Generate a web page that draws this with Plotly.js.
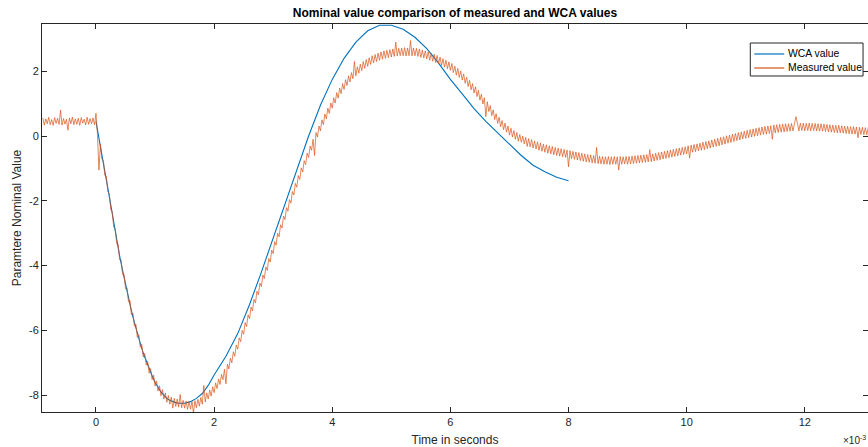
<!DOCTYPE html>
<html>
<head>
<meta charset="utf-8">
<script src="https://cdn.plot.ly/plotly-3.0.1.min.js"></script>
<style>
html,body{margin:0;padding:0;background:#fff;overflow:hidden;}
#chart{width:868px;height:447px;}
</style>
</head>
<body>
<div id="chart"></div>
<script>
// WCA value (time axis in units of 10^-3 s)
const wcaTime = [0,0.05,0.1,0.15,0.2,0.25,0.3,0.35,0.4,0.45,0.5,0.55,0.6,0.65,0.7,0.75,0.8,0.85,0.9,0.95,1.0,1.05,1.1,1.15,1.2,1.25,1.3,1.35,1.4,1.45,1.5,1.6,1.7,1.8,1.9,2.0,2.2,2.4,2.6,2.8,3.0,3.2,3.4,3.6,3.8,4.0,4.2,4.4,4.6,4.8,5.0,5.2,5.4,5.6,5.8,6.0,6.2,6.4,6.6,6.8,7.0,7.2,7.4,7.6,7.8,8.0];
const wcaValue = [0.45,-0.1,-0.6,-1.1,-1.6,-2.15,-2.7,-3.2,-3.7,-4.15,-4.6,-5.0,-5.4,-5.75,-6.1,-6.4,-6.7,-6.95,-7.2,-7.4,-7.6,-7.75,-7.9,-8.0,-8.1,-8.16,-8.2,-8.23,-8.25,-8.26,-8.25,-8.2,-8.1,-7.95,-7.7,-7.38,-6.8,-6.1,-5.2,-4.2,-3.15,-2.1,-1.05,0.0,0.95,1.75,2.4,2.9,3.25,3.42,3.42,3.3,3.05,2.7,2.25,1.75,1.3,0.85,0.45,0.1,-0.25,-0.6,-0.9,-1.1,-1.27,-1.38];

// Measured value, one sample every 0.025 (x10^-3 s) starting at -0.9
const measuredStart = -0.9;
const measuredStep = 0.025;
const measuredValue = [
0.56,0.34,0.53,0.38,0.58,0.35,0.51,0.33,0.57,0.39,0.55,0.36,0.80,0.34,0.54,0.37,0.52,0.18,0.56,0.38,0.59,0.35,0.53,0.36,0.55,0.33,0.57,0.40,0.52,0.34,0.58,0.36,0.54,0.38,0.56,0.35,0.70,
0.05,-1.05,-0.25,-0.72,-0.75,-1.22,-1.24,-1.72,-1.77,-2.27,-2.32,-2.82,-2.84,-3.32,-3.34,-3.82,-3.82,-4.27,-4.27,-4.72,
-4.68,-5.12,-5.08,-5.52,-5.46,-5.87,-5.81,-6.22,-6.13,-6.52,-6.43,-6.82,-6.71,-7.07,-6.96,-7.32,-7.18,-7.52,-7.38,-7.72,
-7.56,-7.87,-7.71,-8.02,-7.83,-8.12,-7.93,-8.22,-8.01,-8.28,-8.06,-8.40,-8.10,-8.35,-8.12,-8.37,-7.98,-8.39,-8.16,-8.40,
-8.18,-8.44,-8.20,-8.43,-8.19,-8.55,-8.17,-8.39,-8.13,-8.34,-8.07,-8.28,-7.70,-8.21,-7.93,-8.12,-7.84,-8.03,-7.74,-7.92,
-7.62,-7.80,-7.50,-7.67,-7.36,-7.52,-7.20,-7.65,-7.04,-7.19,-6.86,-7.00,-6.66,-6.80,-6.45,-6.58,-6.23,-6.35,-6.00,-6.12,
-5.76,-5.88,-5.52,-5.64,-5.28,-5.40,-5.04,-5.15,-4.79,-4.90,-4.54,-4.65,-4.29,-4.40,-4.04,-4.15,-3.78,-3.89,-3.52,-3.63,
-3.26,-3.37,-3.00,-3.11,-2.74,-2.84,-2.47,-2.58,-2.21,-2.32,-1.96,-2.07,-1.71,-1.82,-1.46,-1.58,-1.22,-1.34,-0.98,-1.11,
-0.76,-0.88,-0.53,-0.66,-0.31,-0.44,-0.10,-0.60,0.11,-0.03,0.31,0.16,0.50,0.35,0.68,0.53,0.86,0.70,1.02,0.86,
1.18,1.02,1.34,1.17,1.48,1.31,1.62,1.44,1.74,1.56,1.86,1.67,1.96,1.77,2.30,1.86,2.14,1.94,2.22,2.02,
2.30,2.09,2.36,2.15,2.42,2.21,2.48,2.26,2.52,2.30,2.56,2.34,2.60,2.37,2.63,2.40,2.65,2.42,2.67,2.44,
2.69,2.46,2.90,2.47,2.71,2.48,2.72,2.48,2.73,2.47,2.72,2.48,2.95,2.48,2.72,2.48,2.71,2.46,2.69,2.43,
2.66,2.41,2.63,2.38,2.60,2.34,2.56,2.31,2.53,2.27,2.49,2.23,2.44,2.18,2.39,2.13,2.34,2.08,2.29,2.03,
2.24,1.96,2.16,1.88,2.09,1.81,2.01,1.73,1.92,1.63,1.82,1.53,1.72,1.43,1.62,1.33,1.52,1.22,1.41,1.11,
1.29,0.99,1.18,0.60,1.06,0.76,0.94,0.63,0.81,0.51,0.69,0.39,0.58,0.29,0.48,0.20,0.40,0.12,0.31,0.03,
0.24,-0.03,0.17,-0.10,0.11,-0.16,0.05,-0.19,0.00,-0.24,-0.04,-0.32,-0.08,-0.33,-0.11,-0.37,-0.15,-0.40,-0.18,-0.44,
-0.21,-0.47,-0.25,-0.50,-0.27,-0.53,-0.30,-0.55,-0.32,-0.58,-0.35,-0.60,-0.37,-0.62,-0.39,-0.64,-0.41,-0.66,-0.43,-0.95,
-0.45,-0.70,-0.47,-0.72,-0.49,-0.74,-0.51,-0.76,-0.53,-0.78,-0.55,-0.80,-0.57,-0.81,-0.58,-0.83,-0.60,-0.84,-0.35,-0.85,
-0.62,-0.86,-0.63,-0.87,-0.64,-0.87,-0.63,-0.88,-0.64,-0.87,-0.63,-0.87,-0.64,-1.05,-0.63,-0.87,-0.64,-0.86,-0.63,-0.87,
-0.63,-0.86,-0.62,-0.85,-0.61,-0.84,-0.60,-0.83,-0.59,-0.82,-0.58,-0.81,-0.57,-0.80,-0.42,-0.79,-0.55,-0.77,-0.53,-0.75,
-0.51,-0.73,-0.49,-0.71,-0.47,-0.69,-0.45,-0.67,-0.43,-0.65,-0.41,-0.63,-0.39,-0.61,-0.37,-0.59,-0.35,-0.57,-0.33,-0.55,
-0.30,-0.68,-0.28,-0.50,-0.26,-0.48,-0.24,-0.46,-0.22,-0.44,-0.19,-0.42,-0.17,-0.39,-0.15,-0.37,-0.12,-0.34,-0.10,-0.32,
-0.07,-0.30,-0.04,-0.27,-0.02,-0.25,0.01,-0.22,0.03,-0.20,0.06,-0.17,0.08,-0.14,0.11,-0.12,0.13,-0.09,0.15,-0.07,
0.18,-0.05,0.20,-0.03,0.22,-0.01,0.24,0.01,0.26,0.03,0.28,0.05,0.30,0.06,0.31,0.08,0.32,-0.10,0.34,0.10,
0.35,0.11,0.36,0.12,0.37,0.13,0.38,0.14,0.38,0.15,0.39,0.16,0.39,0.60,0.40,0.16,0.40,0.17,0.40,0.16,
0.39,0.17,0.40,0.16,0.39,0.17,0.39,0.16,0.38,0.15,0.38,0.15,0.37,0.14,0.36,0.13,0.35,0.12,0.34,0.11,
0.33,0.10,0.33,0.10,0.32,0.09,0.31,0.08,0.30,0.07,0.29,0.06,0.29,0.06,0.28,-0.05,0.27,0.05,0.27,0.04,
0.26,0.04,0.26,0.03
];
const measuredTime = measuredValue.map((_, i) => +(measuredStart + i * measuredStep).toFixed(3));

const xTicks = [0,2,4,6,8,10,12];
const yTicks = [-8,-6,-4,-2,0,2];
const seriesNames = ['WCA value', 'Measured value'];
const seriesColors = ['#0072BD', '#D95319'];

const axisColor = '#262626';
const font = 'Liberation Sans, Arial, Helvetica, sans-serif';

const traces = [
  {x: wcaTime, y: wcaValue, type: 'scatter', mode: 'lines', name: seriesNames[0],
   line: {color: seriesColors[0], width: 1.1}},
  {x: measuredTime, y: measuredValue, type: 'scatter', mode: 'lines', name: seriesNames[1],
   line: {color: seriesColors[1], width: 0.7}}
];

// legend box geometry in paper coordinates
const lg = {x0: 0.8575, x1: 0.9940, y0: 0.8660, y1: 0.9510, lx0: 0.8623, lx1: 0.8986, tx: 0.9022, rows: [0.9227, 0.8866]};

const shapes = [
  {type: 'rect', xref: 'paper', yref: 'paper', x0: lg.x0, x1: lg.x1, y0: lg.y0, y1: lg.y1,
   line: {color: axisColor, width: 1}, fillcolor: '#fff', layer: 'above'}
];
const annotations = [];
seriesNames.forEach((n, i) => {
  shapes.push({type: 'line', xref: 'paper', yref: 'paper', x0: lg.lx0, x1: lg.lx1, y0: lg.rows[i], y1: lg.rows[i],
               line: {color: seriesColors[i], width: 1.2}, layer: 'above'});
  annotations.push({text: n, xref: 'paper', yref: 'paper', x: lg.tx, y: lg.rows[i], xanchor: 'left', yanchor: 'middle',
                    showarrow: false, borderpad: 0, font: {family: font, size: 10.4, color: '#000'}});
});
annotations.push({text: '×10<sup>-3</sup>', xref: 'paper', yref: 'paper', x: 0.999, y: -0.072,
  xanchor: 'right', yanchor: 'middle', showarrow: false, borderpad: 0,
  font: {family: font, size: 10, color: axisColor}});

const layout = {
  width: 868, height: 447,
  margin: {l: 42, r: 0, t: 24, b: 35, pad: 0},
  paper_bgcolor: '#fff', plot_bgcolor: '#fff',
  font: {family: font, size: 11, color: axisColor},
  showlegend: false,
  title: {text: '<b>Nominal value comparison of measured and WCA values</b>',
          font: {family: font, size: 12, color: '#000'},
          xref: 'paper', x: 0.5, xanchor: 'center', yref: 'container', y: 0.972, yanchor: 'middle'},
  xaxis: {range: [-0.914, 13.07], tickvals: xTicks, ticktext: xTicks.map(String),
          ticks: 'inside', ticklen: 5, tickcolor: axisColor, tickwidth: 1,
          showline: true, linecolor: axisColor, linewidth: 1, mirror: 'ticks',
          showgrid: false, zeroline: false,
          tickfont: {family: font, size: 11, color: axisColor},
          title: {text: 'Time in seconds', font: {family: font, size: 12, color: axisColor}, standoff: 9}},
  yaxis: {range: [-8.52, 3.46], tickvals: yTicks, ticktext: yTicks.map(String),
          ticks: 'inside', ticklen: 5, tickcolor: axisColor, tickwidth: 1,
          showline: true, linecolor: axisColor, linewidth: 1, mirror: 'ticks',
          showgrid: false, zeroline: false,
          tickfont: {family: font, size: 11, color: axisColor},
          title: {text: 'Paramtere Nominal Value', font: {family: font, size: 12, color: axisColor}, standoff: 4}},
  shapes: shapes,
  annotations: annotations
};

Plotly.newPlot('chart', traces, layout, {displayModeBar: false, staticPlot: true});
</script>
</body>
</html>
